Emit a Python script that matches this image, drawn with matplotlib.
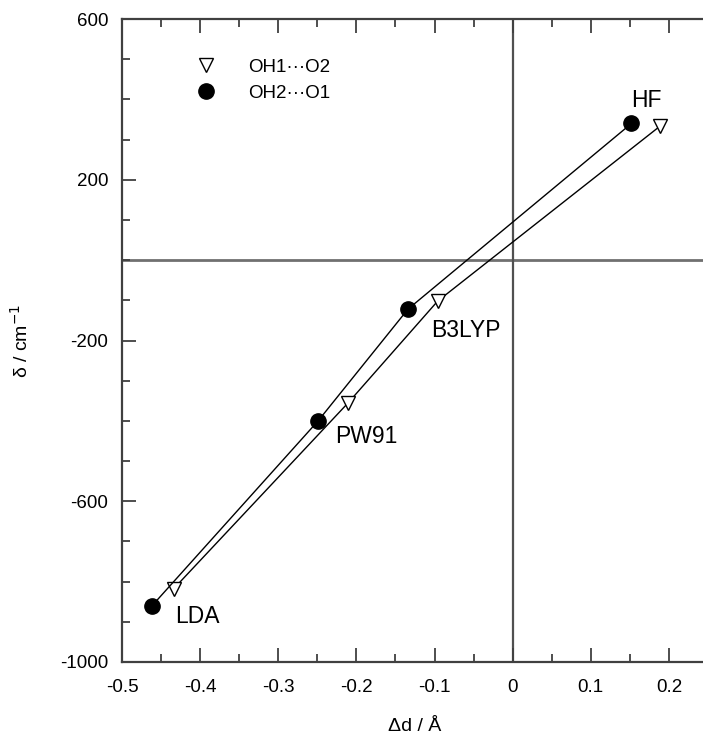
import matplotlib
matplotlib.use("Agg")
import matplotlib.pyplot as plt
from matplotlib.ticker import FixedLocator, MultipleLocator
from matplotlib.lines import Line2D

plt.rcParams["font.family"] = ["Liberation Sans", "DejaVu Sans"]
plt.rcParams["font.size"] = 13

# data
methods = ["LDA", "PW91", "B3LYP", "HF"]
dd_oh2_o1 = [-0.462, -0.249, -0.134, 0.152]
shift_oh2_o1 = [-861, -400, -122, 340]
dd_oh1_o2 = [-0.434, -0.211, -0.096, 0.189]
shift_oh1_o2 = [-818, -356, -102, 334]

label_x = [-0.403, -0.187, -0.060, 0.171]
label_y = [-886, -438, -174, 396]

fig = plt.figure(figsize=(7.03, 7.42), dpi=100)
ax = fig.add_axes([122 / 703, 1 - 662 / 742, 586 / 703, 643 / 742])

ax.axhline(0, color="#707070", lw=2, zorder=1)
ax.axvline(0, color="#505050", lw=1.6, zorder=1)

ax.plot(dd_oh1_o2, shift_oh1_o2, color="black", lw=1, marker="v", ms=10,
        mfc="white", mec="black", mew=1, zorder=3)
ax.plot(dd_oh2_o1, shift_oh2_o1, color="black", lw=1, marker="o", ms=11,
        mfc="black", mec="black", zorder=3)

for m, x, y in zip(methods, label_x, label_y):
    ax.text(x, y, m, ha="center", va="center", fontsize=16.5)

handles = [
    Line2D([], [], ls="none", marker="v", ms=10, mfc="white", mec="black"),
    Line2D([], [], ls="none", marker="o", ms=11, mfc="black", mec="black"),
]
ax.legend(handles, ["OH1\u00b7\u00b7\u00b7O2", "OH2\u00b7\u00b7\u00b7O1"],
          loc="upper left", bbox_to_anchor=(0.09, 0.965), frameon=False,
          handlelength=1.5, handletextpad=1.5, labelspacing=0.5, fontsize=13.5)

ax.set_xlim(-0.5, 0.25)
ax.set_ylim(-1000, 600)
ax.xaxis.set_major_locator(MultipleLocator(0.1))
ax.xaxis.set_minor_locator(MultipleLocator(0.05))
ax.yaxis.set_major_locator(FixedLocator([-1000, -600, -200, 200, 600]))
ax.yaxis.set_minor_locator(MultipleLocator(100))
ax.set_xticks([-0.5, -0.4, -0.3, -0.2, -0.1, 0, 0.1, 0.2])
ax.set_xticklabels(["-0.5", "-0.4", "-0.3", "-0.2", "-0.1", "0", "0.1", "0.2"])
ax.set_yticklabels(["-1000", "-600", "-200", "200", "600"])

ax.tick_params(which="both", direction="in", top=True, right=False,
               color="#404040", width=1.3, labelsize=13.5)
ax.tick_params(axis="x", pad=12)
ax.tick_params(axis="y", pad=10)
ax.tick_params(which="major", length=10)
ax.tick_params(which="minor", length=6)
for s in ax.spines.values():
    s.set_color("#404040")
    s.set_linewidth(1.6)

ax.set_xlabel("\u0394d / \u00c5", fontsize=14, labelpad=16)
ax.set_ylabel("\u03b4 / cm$^{-1}$", fontsize=14, labelpad=20)

fig.savefig("out.png", dpi=100)
